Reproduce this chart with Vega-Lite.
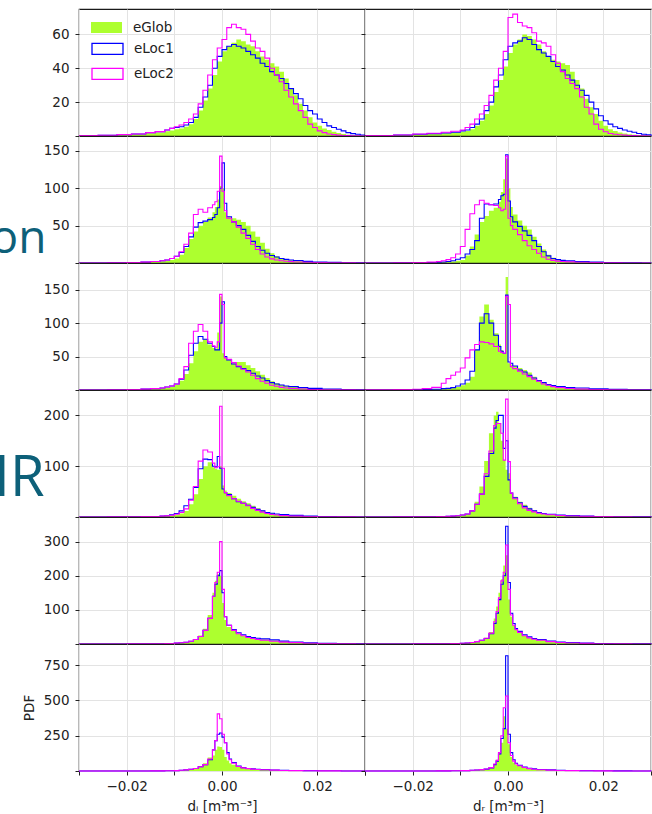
{
"$schema":"https://vega.github.io/schema/vega-lite/v6.json",
"background":"white",
"padding":{"left":-11,"top":8,"right":0,"bottom":0},
"config":{
 "font":"DejaVu Sans",
 "view":{"stroke":"#1a1a1a","strokeWidth":1.2},
 "axis":{"grid":true,"gridColor":"#e3e3e3","gridWidth":1,"domain":false,"tickColor":"#222","tickSize":4,"tickWidth":1,"labelFont":"DejaVu Sans","labelFontSize":13.5,"labelColor":"#222","titleFont":"DejaVu Sans","titleFontSize":13.5,"titleFontWeight":"normal","titleColor":"#222"},
 "axisX":{"labelPadding":4,"titlePadding":7},
 "axisY":{"labelPadding":6}
},
"data":{"values":[
{"p":"1L","x":-0.03,"eGlob":0.2,"eLoc1":0.2,"eLoc2":0.2},
{"p":"1L","x":-0.026,"eGlob":0.4,"eLoc1":0.4,"eLoc2":0.4},
{"p":"1L","x":-0.022,"eGlob":0.8,"eLoc1":0.8,"eLoc2":0.8},
{"p":"1L","x":-0.019,"eGlob":1,"eLoc1":1.2,"eLoc2":1.2},
{"p":"1L","x":-0.016,"eGlob":1.6,"eLoc1":2,"eLoc2":2},
{"p":"1L","x":-0.014,"eGlob":2,"eLoc1":2.6,"eLoc2":2.6},
{"p":"1L","x":-0.012,"eGlob":2.8,"eLoc1":3.5,"eLoc2":3.5},
{"p":"1L","x":-0.011,"eGlob":3.2,"eLoc1":4.5,"eLoc2":4.5},
{"p":"1L","x":-0.01,"eGlob":4,"eLoc1":5,"eLoc2":5.5},
{"p":"1L","x":-0.009,"eGlob":4.5,"eLoc1":5.5,"eLoc2":6.5},
{"p":"1L","x":-0.008,"eGlob":5.5,"eLoc1":6.5,"eLoc2":8},
{"p":"1L","x":-0.007,"eGlob":7,"eLoc1":8,"eLoc2":10},
{"p":"1L","x":-0.006,"eGlob":10,"eLoc1":11,"eLoc2":13},
{"p":"1L","x":-0.005,"eGlob":15,"eLoc1":17,"eLoc2":19},
{"p":"1L","x":-0.004,"eGlob":21,"eLoc1":23,"eLoc2":27},
{"p":"1L","x":-0.003,"eGlob":28,"eLoc1":30,"eLoc2":36},
{"p":"1L","x":-0.002,"eGlob":36,"eLoc1":40,"eLoc2":45},
{"p":"1L","x":-0.001,"eGlob":44,"eLoc1":47,"eLoc2":52},
{"p":"1L","x":0,"eGlob":50,"eLoc1":51,"eLoc2":57},
{"p":"1L","x":0.001,"eGlob":53,"eLoc1":53,"eLoc2":64},
{"p":"1L","x":0.002,"eGlob":55,"eLoc1":54,"eLoc2":66},
{"p":"1L","x":0.003,"eGlob":57,"eLoc1":53,"eLoc2":64},
{"p":"1L","x":0.004,"eGlob":56,"eLoc1":52,"eLoc2":63},
{"p":"1L","x":0.005,"eGlob":54,"eLoc1":50,"eLoc2":60},
{"p":"1L","x":0.006,"eGlob":53,"eLoc1":48,"eLoc2":56},
{"p":"1L","x":0.007,"eGlob":50,"eLoc1":46,"eLoc2":52},
{"p":"1L","x":0.008,"eGlob":47,"eLoc1":43,"eLoc2":50},
{"p":"1L","x":0.009,"eGlob":45,"eLoc1":41,"eLoc2":46},
{"p":"1L","x":0.01,"eGlob":43,"eLoc1":38,"eLoc2":40},
{"p":"1L","x":0.011,"eGlob":41,"eLoc1":36,"eLoc2":36},
{"p":"1L","x":0.012,"eGlob":38,"eLoc1":34,"eLoc2":32},
{"p":"1L","x":0.013,"eGlob":34,"eLoc1":31,"eLoc2":27},
{"p":"1L","x":0.014,"eGlob":28,"eLoc1":28,"eLoc2":23},
{"p":"1L","x":0.015,"eGlob":24,"eLoc1":25,"eLoc2":19},
{"p":"1L","x":0.016,"eGlob":19,"eLoc1":22,"eLoc2":15},
{"p":"1L","x":0.017,"eGlob":15,"eLoc1":18,"eLoc2":11},
{"p":"1L","x":0.018,"eGlob":11,"eLoc1":15,"eLoc2":7},
{"p":"1L","x":0.019,"eGlob":8,"eLoc1":13,"eLoc2":5},
{"p":"1L","x":0.02,"eGlob":6,"eLoc1":10,"eLoc2":3},
{"p":"1L","x":0.021,"eGlob":4.5,"eLoc1":8,"eLoc2":2},
{"p":"1L","x":0.022,"eGlob":3.5,"eLoc1":6,"eLoc2":1.2},
{"p":"1L","x":0.023,"eGlob":2.5,"eLoc1":5,"eLoc2":0.8},
{"p":"1L","x":0.024,"eGlob":1.8,"eLoc1":4,"eLoc2":0.5},
{"p":"1L","x":0.025,"eGlob":1.2,"eLoc1":3,"eLoc2":0.3},
{"p":"1L","x":0.026,"eGlob":0.8,"eLoc1":2,"eLoc2":0.2},
{"p":"1L","x":0.027,"eGlob":0.5,"eLoc1":1.4,"eLoc2":0.1},
{"p":"1L","x":0.028,"eGlob":0.3,"eLoc1":1,"eLoc2":0.1},
{"p":"1L","x":0.029,"eGlob":0.2,"eLoc1":0.6,"eLoc2":0},
{"p":"1L","x":0.03,"eGlob":0,"eLoc1":0,"eLoc2":0},
{"p":"1R","x":-0.03,"eGlob":0.3,"eLoc1":0.3,"eLoc2":0.3},
{"p":"1R","x":-0.024,"eGlob":0.6,"eLoc1":0.6,"eLoc2":0.6},
{"p":"1R","x":-0.02,"eGlob":1,"eLoc1":1,"eLoc2":1.2},
{"p":"1R","x":-0.017,"eGlob":1.3,"eLoc1":1.4,"eLoc2":1.6},
{"p":"1R","x":-0.014,"eGlob":1.6,"eLoc1":1.8,"eLoc2":2.2},
{"p":"1R","x":-0.012,"eGlob":2,"eLoc1":2.2,"eLoc2":2.8},
{"p":"1R","x":-0.01,"eGlob":2.5,"eLoc1":3,"eLoc2":3.5},
{"p":"1R","x":-0.009,"eGlob":3,"eLoc1":3.5,"eLoc2":5},
{"p":"1R","x":-0.008,"eGlob":4,"eLoc1":5,"eLoc2":7},
{"p":"1R","x":-0.007,"eGlob":6,"eLoc1":7,"eLoc2":10},
{"p":"1R","x":-0.006,"eGlob":9,"eLoc1":10,"eLoc2":13},
{"p":"1R","x":-0.005,"eGlob":13,"eLoc1":15,"eLoc2":18},
{"p":"1R","x":-0.004,"eGlob":18,"eLoc1":20,"eLoc2":24},
{"p":"1R","x":-0.003,"eGlob":26,"eLoc1":29,"eLoc2":33},
{"p":"1R","x":-0.002,"eGlob":33,"eLoc1":36,"eLoc2":40},
{"p":"1R","x":-0.001,"eGlob":41,"eLoc1":45,"eLoc2":50},
{"p":"1R","x":0,"eGlob":49,"eLoc1":53,"eLoc2":70},
{"p":"1R","x":0.001,"eGlob":54,"eLoc1":55,"eLoc2":72},
{"p":"1R","x":0.002,"eGlob":57,"eLoc1":56,"eLoc2":67},
{"p":"1R","x":0.003,"eGlob":60,"eLoc1":58,"eLoc2":65},
{"p":"1R","x":0.004,"eGlob":59,"eLoc1":57,"eLoc2":64},
{"p":"1R","x":0.005,"eGlob":57,"eLoc1":54,"eLoc2":61},
{"p":"1R","x":0.006,"eGlob":54,"eLoc1":51,"eLoc2":56},
{"p":"1R","x":0.007,"eGlob":50,"eLoc1":49,"eLoc2":55},
{"p":"1R","x":0.008,"eGlob":47,"eLoc1":47,"eLoc2":53},
{"p":"1R","x":0.009,"eGlob":45,"eLoc1":44,"eLoc2":48},
{"p":"1R","x":0.01,"eGlob":44,"eLoc1":41,"eLoc2":43},
{"p":"1R","x":0.011,"eGlob":43,"eLoc1":39,"eLoc2":38},
{"p":"1R","x":0.012,"eGlob":42,"eLoc1":36,"eLoc2":34},
{"p":"1R","x":0.013,"eGlob":38,"eLoc1":33,"eLoc2":31},
{"p":"1R","x":0.014,"eGlob":33,"eLoc1":30,"eLoc2":28},
{"p":"1R","x":0.015,"eGlob":28,"eLoc1":27,"eLoc2":23},
{"p":"1R","x":0.016,"eGlob":22,"eLoc1":24,"eLoc2":17},
{"p":"1R","x":0.017,"eGlob":17,"eLoc1":20,"eLoc2":13},
{"p":"1R","x":0.018,"eGlob":13,"eLoc1":16,"eLoc2":7},
{"p":"1R","x":0.019,"eGlob":9,"eLoc1":12,"eLoc2":4},
{"p":"1R","x":0.02,"eGlob":6,"eLoc1":9,"eLoc2":2.5},
{"p":"1R","x":0.021,"eGlob":4,"eLoc1":7,"eLoc2":1.5},
{"p":"1R","x":0.022,"eGlob":3,"eLoc1":5.5,"eLoc2":1},
{"p":"1R","x":0.023,"eGlob":2,"eLoc1":4.5,"eLoc2":0.7},
{"p":"1R","x":0.024,"eGlob":1.5,"eLoc1":3.5,"eLoc2":0.5},
{"p":"1R","x":0.025,"eGlob":1,"eLoc1":2.8,"eLoc2":0.3},
{"p":"1R","x":0.026,"eGlob":0.7,"eLoc1":2.2,"eLoc2":0.2},
{"p":"1R","x":0.027,"eGlob":0.5,"eLoc1":1.5,"eLoc2":0.1},
{"p":"1R","x":0.028,"eGlob":0.3,"eLoc1":1,"eLoc2":0.1},
{"p":"1R","x":0.029,"eGlob":0.2,"eLoc1":0.7,"eLoc2":0},
{"p":"1R","x":0.03,"eGlob":0,"eLoc1":0,"eLoc2":0},
{"p":"2L","x":-0.03,"eGlob":0.1,"eLoc1":0.1,"eLoc2":0.1},
{"p":"2L","x":-0.024,"eGlob":0.3,"eLoc1":0.3,"eLoc2":0.3},
{"p":"2L","x":-0.02,"eGlob":0.5,"eLoc1":0.6,"eLoc2":0.6},
{"p":"2L","x":-0.017,"eGlob":1,"eLoc1":1.2,"eLoc2":1.2},
{"p":"2L","x":-0.015,"eGlob":1.5,"eLoc1":2,"eLoc2":2},
{"p":"2L","x":-0.013,"eGlob":2.5,"eLoc1":3,"eLoc2":3},
{"p":"2L","x":-0.012,"eGlob":3,"eLoc1":4,"eLoc2":4},
{"p":"2L","x":-0.011,"eGlob":4,"eLoc1":6,"eLoc2":6},
{"p":"2L","x":-0.01,"eGlob":6,"eLoc1":9,"eLoc2":9},
{"p":"2L","x":-0.009,"eGlob":11,"eLoc1":14,"eLoc2":15},
{"p":"2L","x":-0.008,"eGlob":20,"eLoc1":22,"eLoc2":25},
{"p":"2L","x":-0.007,"eGlob":32,"eLoc1":35,"eLoc2":40},
{"p":"2L","x":-0.006,"eGlob":42,"eLoc1":48,"eLoc2":65},
{"p":"2L","x":-0.005,"eGlob":50,"eLoc1":54,"eLoc2":72},
{"p":"2L","x":-0.004,"eGlob":55,"eLoc1":56,"eLoc2":68},
{"p":"2L","x":-0.003,"eGlob":61,"eLoc1":58,"eLoc2":74},
{"p":"2L","x":-0.002,"eGlob":68,"eLoc1":61,"eLoc2":78},
{"p":"2L","x":-0.0015,"eGlob":75,"eLoc1":65,"eLoc2":82},
{"p":"2L","x":-0.001,"eGlob":85,"eLoc1":74,"eLoc2":96},
{"p":"2L","x":-0.0005,"eGlob":103,"eLoc1":100,"eLoc2":143},
{"p":"2L","x":0,"eGlob":100,"eLoc1":134,"eLoc2":96},
{"p":"2L","x":0.0005,"eGlob":68,"eLoc1":80,"eLoc2":70},
{"p":"2L","x":0.001,"eGlob":62,"eLoc1":62,"eLoc2":60},
{"p":"2L","x":0.002,"eGlob":60,"eLoc1":55,"eLoc2":55},
{"p":"2L","x":0.003,"eGlob":58,"eLoc1":50,"eLoc2":48},
{"p":"2L","x":0.004,"eGlob":55,"eLoc1":45,"eLoc2":40},
{"p":"2L","x":0.005,"eGlob":50,"eLoc1":37,"eLoc2":33},
{"p":"2L","x":0.006,"eGlob":42,"eLoc1":29,"eLoc2":25},
{"p":"2L","x":0.007,"eGlob":35,"eLoc1":22,"eLoc2":18},
{"p":"2L","x":0.008,"eGlob":27,"eLoc1":17,"eLoc2":12},
{"p":"2L","x":0.009,"eGlob":19,"eLoc1":13,"eLoc2":8},
{"p":"2L","x":0.01,"eGlob":13,"eLoc1":10,"eLoc2":5.5},
{"p":"2L","x":0.011,"eGlob":9,"eLoc1":8,"eLoc2":4},
{"p":"2L","x":0.012,"eGlob":6.5,"eLoc1":6,"eLoc2":3},
{"p":"2L","x":0.013,"eGlob":5,"eLoc1":4.8,"eLoc2":2.3},
{"p":"2L","x":0.014,"eGlob":3.8,"eLoc1":4,"eLoc2":1.8},
{"p":"2L","x":0.015,"eGlob":3,"eLoc1":3.3,"eLoc2":1.4},
{"p":"2L","x":0.017,"eGlob":2,"eLoc1":2.2,"eLoc2":1},
{"p":"2L","x":0.019,"eGlob":1.2,"eLoc1":1.4,"eLoc2":0.6},
{"p":"2L","x":0.022,"eGlob":0.6,"eLoc1":0.8,"eLoc2":0.4},
{"p":"2L","x":0.025,"eGlob":0.3,"eLoc1":0.4,"eLoc2":0.2},
{"p":"2L","x":0.028,"eGlob":0.1,"eLoc1":0.2,"eLoc2":0.1},
{"p":"2L","x":0.03,"eGlob":0,"eLoc1":0,"eLoc2":0},
{"p":"2R","x":-0.03,"eGlob":0.1,"eLoc1":0.1,"eLoc2":0.1},
{"p":"2R","x":-0.024,"eGlob":0.2,"eLoc1":0.2,"eLoc2":0.3},
{"p":"2R","x":-0.02,"eGlob":0.4,"eLoc1":0.4,"eLoc2":0.6},
{"p":"2R","x":-0.017,"eGlob":0.7,"eLoc1":0.7,"eLoc2":1.2},
{"p":"2R","x":-0.015,"eGlob":1,"eLoc1":1,"eLoc2":2},
{"p":"2R","x":-0.014,"eGlob":1.2,"eLoc1":1.4,"eLoc2":3},
{"p":"2R","x":-0.013,"eGlob":1.5,"eLoc1":2,"eLoc2":4.5},
{"p":"2R","x":-0.012,"eGlob":2,"eLoc1":3,"eLoc2":7},
{"p":"2R","x":-0.011,"eGlob":3,"eLoc1":5,"eLoc2":12},
{"p":"2R","x":-0.01,"eGlob":4,"eLoc1":7,"eLoc2":22},
{"p":"2R","x":-0.009,"eGlob":10,"eLoc1":12,"eLoc2":45},
{"p":"2R","x":-0.008,"eGlob":22,"eLoc1":18,"eLoc2":66},
{"p":"2R","x":-0.007,"eGlob":38,"eLoc1":30,"eLoc2":78},
{"p":"2R","x":-0.006,"eGlob":55,"eLoc1":60,"eLoc2":84},
{"p":"2R","x":-0.005,"eGlob":63,"eLoc1":79,"eLoc2":80},
{"p":"2R","x":-0.004,"eGlob":70,"eLoc1":78,"eLoc2":78},
{"p":"2R","x":-0.003,"eGlob":74,"eLoc1":79,"eLoc2":77},
{"p":"2R","x":-0.002,"eGlob":82,"eLoc1":85,"eLoc2":74},
{"p":"2R","x":-0.0015,"eGlob":95,"eLoc1":90,"eLoc2":70},
{"p":"2R","x":-0.001,"eGlob":112,"eLoc1":92,"eLoc2":72},
{"p":"2R","x":-0.0005,"eGlob":140,"eLoc1":145,"eLoc2":143},
{"p":"2R","x":0,"eGlob":100,"eLoc1":83,"eLoc2":60},
{"p":"2R","x":0.0005,"eGlob":75,"eLoc1":62,"eLoc2":50},
{"p":"2R","x":0.001,"eGlob":65,"eLoc1":55,"eLoc2":45},
{"p":"2R","x":0.002,"eGlob":57,"eLoc1":49,"eLoc2":38},
{"p":"2R","x":0.003,"eGlob":50,"eLoc1":43,"eLoc2":30},
{"p":"2R","x":0.004,"eGlob":45,"eLoc1":37,"eLoc2":23},
{"p":"2R","x":0.005,"eGlob":35,"eLoc1":30,"eLoc2":18},
{"p":"2R","x":0.006,"eGlob":26,"eLoc1":22,"eLoc2":13},
{"p":"2R","x":0.007,"eGlob":18,"eLoc1":15,"eLoc2":8},
{"p":"2R","x":0.008,"eGlob":11,"eLoc1":9.5,"eLoc2":5},
{"p":"2R","x":0.009,"eGlob":7,"eLoc1":6,"eLoc2":3.5},
{"p":"2R","x":0.01,"eGlob":5,"eLoc1":4.5,"eLoc2":2.5},
{"p":"2R","x":0.011,"eGlob":3.5,"eLoc1":3.5,"eLoc2":2},
{"p":"2R","x":0.012,"eGlob":2.5,"eLoc1":2.8,"eLoc2":1.5},
{"p":"2R","x":0.014,"eGlob":1.5,"eLoc1":2,"eLoc2":1},
{"p":"2R","x":0.017,"eGlob":0.8,"eLoc1":1.2,"eLoc2":0.5},
{"p":"2R","x":0.02,"eGlob":0.4,"eLoc1":0.6,"eLoc2":0.3},
{"p":"2R","x":0.024,"eGlob":0.2,"eLoc1":0.3,"eLoc2":0.1},
{"p":"2R","x":0.028,"eGlob":0.1,"eLoc1":0.1,"eLoc2":0},
{"p":"2R","x":0.03,"eGlob":0,"eLoc1":0,"eLoc2":0},
{"p":"3L","x":-0.03,"eGlob":0.1,"eLoc1":0.1,"eLoc2":0.1},
{"p":"3L","x":-0.024,"eGlob":0.3,"eLoc1":0.3,"eLoc2":0.3},
{"p":"3L","x":-0.02,"eGlob":0.6,"eLoc1":0.8,"eLoc2":0.8},
{"p":"3L","x":-0.017,"eGlob":1,"eLoc1":1.3,"eLoc2":1.3},
{"p":"3L","x":-0.015,"eGlob":1.5,"eLoc1":2,"eLoc2":2},
{"p":"3L","x":-0.013,"eGlob":2.5,"eLoc1":3,"eLoc2":3},
{"p":"3L","x":-0.012,"eGlob":3.5,"eLoc1":4.5,"eLoc2":4.5},
{"p":"3L","x":-0.011,"eGlob":5,"eLoc1":6,"eLoc2":6},
{"p":"3L","x":-0.01,"eGlob":8,"eLoc1":9,"eLoc2":9},
{"p":"3L","x":-0.009,"eGlob":14,"eLoc1":16,"eLoc2":17},
{"p":"3L","x":-0.008,"eGlob":24,"eLoc1":30,"eLoc2":35},
{"p":"3L","x":-0.007,"eGlob":40,"eLoc1":52,"eLoc2":70},
{"p":"3L","x":-0.006,"eGlob":58,"eLoc1":70,"eLoc2":88},
{"p":"3L","x":-0.005,"eGlob":72,"eLoc1":80,"eLoc2":98},
{"p":"3L","x":-0.004,"eGlob":76,"eLoc1":76,"eLoc2":88},
{"p":"3L","x":-0.003,"eGlob":68,"eLoc1":70,"eLoc2":72},
{"p":"3L","x":-0.002,"eGlob":63,"eLoc1":65,"eLoc2":66},
{"p":"3L","x":-0.0015,"eGlob":62,"eLoc1":60,"eLoc2":64},
{"p":"3L","x":-0.001,"eGlob":86,"eLoc1":60,"eLoc2":72},
{"p":"3L","x":-0.0005,"eGlob":140,"eLoc1":100,"eLoc2":143},
{"p":"3L","x":0,"eGlob":55,"eLoc1":132,"eLoc2":128},
{"p":"3L","x":0.0005,"eGlob":50,"eLoc1":50,"eLoc2":48},
{"p":"3L","x":0.001,"eGlob":45,"eLoc1":45,"eLoc2":46},
{"p":"3L","x":0.002,"eGlob":40,"eLoc1":39,"eLoc2":41},
{"p":"3L","x":0.003,"eGlob":42,"eLoc1":35,"eLoc2":36},
{"p":"3L","x":0.004,"eGlob":42,"eLoc1":32,"eLoc2":31},
{"p":"3L","x":0.005,"eGlob":37,"eLoc1":29,"eLoc2":27},
{"p":"3L","x":0.006,"eGlob":33,"eLoc1":25,"eLoc2":22},
{"p":"3L","x":0.007,"eGlob":28,"eLoc1":21,"eLoc2":17},
{"p":"3L","x":0.008,"eGlob":23,"eLoc1":18,"eLoc2":13},
{"p":"3L","x":0.009,"eGlob":18,"eLoc1":14,"eLoc2":10},
{"p":"3L","x":0.01,"eGlob":13,"eLoc1":11,"eLoc2":7},
{"p":"3L","x":0.011,"eGlob":10,"eLoc1":9,"eLoc2":5.5},
{"p":"3L","x":0.012,"eGlob":7.5,"eLoc1":7.5,"eLoc2":4},
{"p":"3L","x":0.013,"eGlob":6,"eLoc1":6,"eLoc2":3},
{"p":"3L","x":0.014,"eGlob":4.5,"eLoc1":5,"eLoc2":2.2},
{"p":"3L","x":0.016,"eGlob":2.5,"eLoc1":3.5,"eLoc2":1.5},
{"p":"3L","x":0.018,"eGlob":1.5,"eLoc1":2.5,"eLoc2":0.8},
{"p":"3L","x":0.021,"eGlob":0.8,"eLoc1":1.5,"eLoc2":0.4},
{"p":"3L","x":0.025,"eGlob":0.3,"eLoc1":0.6,"eLoc2":0.2},
{"p":"3L","x":0.028,"eGlob":0.1,"eLoc1":0.2,"eLoc2":0.1},
{"p":"3L","x":0.03,"eGlob":0,"eLoc1":0,"eLoc2":0},
{"p":"3R","x":-0.03,"eGlob":0.1,"eLoc1":0.1,"eLoc2":0.2},
{"p":"3R","x":-0.024,"eGlob":0.3,"eLoc1":0.3,"eLoc2":0.6},
{"p":"3R","x":-0.02,"eGlob":0.5,"eLoc1":0.5,"eLoc2":1.2},
{"p":"3R","x":-0.018,"eGlob":0.8,"eLoc1":0.8,"eLoc2":2},
{"p":"3R","x":-0.016,"eGlob":1.2,"eLoc1":1.2,"eLoc2":4},
{"p":"3R","x":-0.014,"eGlob":2,"eLoc1":2,"eLoc2":10},
{"p":"3R","x":-0.013,"eGlob":2.5,"eLoc1":2.5,"eLoc2":17},
{"p":"3R","x":-0.012,"eGlob":3,"eLoc1":3.5,"eLoc2":22},
{"p":"3R","x":-0.011,"eGlob":4.5,"eLoc1":6,"eLoc2":27},
{"p":"3R","x":-0.01,"eGlob":7,"eLoc1":9,"eLoc2":33},
{"p":"3R","x":-0.009,"eGlob":11,"eLoc1":15,"eLoc2":48},
{"p":"3R","x":-0.008,"eGlob":20,"eLoc1":28,"eLoc2":60},
{"p":"3R","x":-0.007,"eGlob":60,"eLoc1":60,"eLoc2":68},
{"p":"3R","x":-0.006,"eGlob":110,"eLoc1":100,"eLoc2":72},
{"p":"3R","x":-0.005,"eGlob":128,"eLoc1":114,"eLoc2":71},
{"p":"3R","x":-0.004,"eGlob":105,"eLoc1":100,"eLoc2":69},
{"p":"3R","x":-0.003,"eGlob":85,"eLoc1":82,"eLoc2":65},
{"p":"3R","x":-0.002,"eGlob":68,"eLoc1":65,"eLoc2":58},
{"p":"3R","x":-0.0015,"eGlob":60,"eLoc1":58,"eLoc2":56},
{"p":"3R","x":-0.001,"eGlob":55,"eLoc1":55,"eLoc2":55},
{"p":"3R","x":-0.0005,"eGlob":169,"eLoc1":142,"eLoc2":140},
{"p":"3R","x":0,"eGlob":40,"eLoc1":42,"eLoc2":128},
{"p":"3R","x":0.0005,"eGlob":38,"eLoc1":40,"eLoc2":35},
{"p":"3R","x":0.001,"eGlob":36,"eLoc1":36,"eLoc2":32},
{"p":"3R","x":0.002,"eGlob":33,"eLoc1":30,"eLoc2":28},
{"p":"3R","x":0.003,"eGlob":30,"eLoc1":27,"eLoc2":24},
{"p":"3R","x":0.004,"eGlob":26,"eLoc1":22,"eLoc2":20},
{"p":"3R","x":0.005,"eGlob":20,"eLoc1":18,"eLoc2":16},
{"p":"3R","x":0.006,"eGlob":15,"eLoc1":14,"eLoc2":13},
{"p":"3R","x":0.007,"eGlob":12,"eLoc1":11,"eLoc2":9},
{"p":"3R","x":0.008,"eGlob":9,"eLoc1":8,"eLoc2":7},
{"p":"3R","x":0.009,"eGlob":7,"eLoc1":6.5,"eLoc2":5},
{"p":"3R","x":0.01,"eGlob":5.5,"eLoc1":5,"eLoc2":3.5},
{"p":"3R","x":0.012,"eGlob":3.5,"eLoc1":3.8,"eLoc2":2.2},
{"p":"3R","x":0.014,"eGlob":2.2,"eLoc1":3,"eLoc2":1.3},
{"p":"3R","x":0.017,"eGlob":1.2,"eLoc1":1.8,"eLoc2":0.7},
{"p":"3R","x":0.021,"eGlob":0.6,"eLoc1":1,"eLoc2":0.3},
{"p":"3R","x":0.025,"eGlob":0.3,"eLoc1":0.4,"eLoc2":0.1},
{"p":"3R","x":0.028,"eGlob":0.1,"eLoc1":0.2,"eLoc2":0},
{"p":"3R","x":0.03,"eGlob":0,"eLoc1":0,"eLoc2":0},
{"p":"4L","x":-0.03,"eGlob":0.1,"eLoc1":0.1,"eLoc2":0.1},
{"p":"4L","x":-0.024,"eGlob":0.2,"eLoc1":0.2,"eLoc2":0.2},
{"p":"4L","x":-0.02,"eGlob":0.4,"eLoc1":0.4,"eLoc2":0.4},
{"p":"4L","x":-0.017,"eGlob":0.7,"eLoc1":0.7,"eLoc2":0.7},
{"p":"4L","x":-0.015,"eGlob":1,"eLoc1":1,"eLoc2":1},
{"p":"4L","x":-0.013,"eGlob":1.5,"eLoc1":2,"eLoc2":1.7},
{"p":"4L","x":-0.012,"eGlob":2,"eLoc1":2.6,"eLoc2":2.2},
{"p":"4L","x":-0.011,"eGlob":3,"eLoc1":4.5,"eLoc2":3.5},
{"p":"4L","x":-0.01,"eGlob":4.5,"eLoc1":7,"eLoc2":5.5},
{"p":"4L","x":-0.009,"eGlob":7,"eLoc1":12,"eLoc2":9},
{"p":"4L","x":-0.008,"eGlob":12,"eLoc1":22,"eLoc2":16},
{"p":"4L","x":-0.007,"eGlob":25,"eLoc1":35,"eLoc2":33},
{"p":"4L","x":-0.006,"eGlob":45,"eLoc1":58,"eLoc2":60},
{"p":"4L","x":-0.005,"eGlob":75,"eLoc1":95,"eLoc2":110},
{"p":"4L","x":-0.004,"eGlob":100,"eLoc1":114,"eLoc2":132},
{"p":"4L","x":-0.003,"eGlob":108,"eLoc1":113,"eLoc2":128},
{"p":"4L","x":-0.002,"eGlob":98,"eLoc1":100,"eLoc2":106},
{"p":"4L","x":-0.0015,"eGlob":95,"eLoc1":99,"eLoc2":97},
{"p":"4L","x":-0.001,"eGlob":93,"eLoc1":119,"eLoc2":99},
{"p":"4L","x":-0.0005,"eGlob":100,"eLoc1":96,"eLoc2":218},
{"p":"4L","x":0,"eGlob":62,"eLoc1":55,"eLoc2":96},
{"p":"4L","x":0.0005,"eGlob":52,"eLoc1":48,"eLoc2":48},
{"p":"4L","x":0.001,"eGlob":47,"eLoc1":44,"eLoc2":42},
{"p":"4L","x":0.002,"eGlob":42,"eLoc1":36,"eLoc2":36},
{"p":"4L","x":0.003,"eGlob":36,"eLoc1":30,"eLoc2":31},
{"p":"4L","x":0.004,"eGlob":31,"eLoc1":27,"eLoc2":27},
{"p":"4L","x":0.005,"eGlob":27,"eLoc1":23,"eLoc2":22},
{"p":"4L","x":0.006,"eGlob":22,"eLoc1":19,"eLoc2":17},
{"p":"4L","x":0.007,"eGlob":17,"eLoc1":15,"eLoc2":13},
{"p":"4L","x":0.008,"eGlob":13,"eLoc1":12,"eLoc2":9.5},
{"p":"4L","x":0.009,"eGlob":10,"eLoc1":9,"eLoc2":7},
{"p":"4L","x":0.01,"eGlob":7.5,"eLoc1":7.5,"eLoc2":5},
{"p":"4L","x":0.011,"eGlob":5.5,"eLoc1":6,"eLoc2":3.8},
{"p":"4L","x":0.012,"eGlob":4.2,"eLoc1":5,"eLoc2":2.8},
{"p":"4L","x":0.014,"eGlob":2.5,"eLoc1":3.2,"eLoc2":1.7},
{"p":"4L","x":0.017,"eGlob":1.2,"eLoc1":1.8,"eLoc2":0.8},
{"p":"4L","x":0.02,"eGlob":0.6,"eLoc1":0.9,"eLoc2":0.4},
{"p":"4L","x":0.024,"eGlob":0.3,"eLoc1":0.4,"eLoc2":0.2},
{"p":"4L","x":0.028,"eGlob":0.1,"eLoc1":0.1,"eLoc2":0.1},
{"p":"4L","x":0.03,"eGlob":0,"eLoc1":0,"eLoc2":0},
{"p":"4R","x":-0.03,"eGlob":0.1,"eLoc1":0.1,"eLoc2":0.1},
{"p":"4R","x":-0.024,"eGlob":0.2,"eLoc1":0.2,"eLoc2":0.2},
{"p":"4R","x":-0.02,"eGlob":0.4,"eLoc1":0.4,"eLoc2":0.4},
{"p":"4R","x":-0.017,"eGlob":0.6,"eLoc1":0.6,"eLoc2":0.6},
{"p":"4R","x":-0.015,"eGlob":0.9,"eLoc1":0.9,"eLoc2":0.9},
{"p":"4R","x":-0.013,"eGlob":1.3,"eLoc1":1.3,"eLoc2":1.3},
{"p":"4R","x":-0.012,"eGlob":1.8,"eLoc1":1.8,"eLoc2":1.8},
{"p":"4R","x":-0.011,"eGlob":2.5,"eLoc1":2.5,"eLoc2":2.5},
{"p":"4R","x":-0.01,"eGlob":3.5,"eLoc1":4,"eLoc2":4},
{"p":"4R","x":-0.009,"eGlob":6,"eLoc1":6,"eLoc2":6},
{"p":"4R","x":-0.008,"eGlob":12,"eLoc1":12,"eLoc2":12},
{"p":"4R","x":-0.007,"eGlob":30,"eLoc1":25,"eLoc2":25},
{"p":"4R","x":-0.006,"eGlob":60,"eLoc1":45,"eLoc2":45},
{"p":"4R","x":-0.005,"eGlob":110,"eLoc1":80,"eLoc2":85},
{"p":"4R","x":-0.004,"eGlob":165,"eLoc1":125,"eLoc2":130},
{"p":"4R","x":-0.003,"eGlob":200,"eLoc1":175,"eLoc2":180},
{"p":"4R","x":-0.0025,"eGlob":207,"eLoc1":190,"eLoc2":184},
{"p":"4R","x":-0.002,"eGlob":184,"eLoc1":200,"eLoc2":184},
{"p":"4R","x":-0.0015,"eGlob":150,"eLoc1":200,"eLoc2":165},
{"p":"4R","x":-0.001,"eGlob":112,"eLoc1":135,"eLoc2":112},
{"p":"4R","x":-0.0005,"eGlob":93,"eLoc1":150,"eLoc2":232},
{"p":"4R","x":0,"eGlob":86,"eLoc1":73,"eLoc2":109},
{"p":"4R","x":0.0005,"eGlob":47,"eLoc1":47,"eLoc2":47},
{"p":"4R","x":0.001,"eGlob":40,"eLoc1":38,"eLoc2":36},
{"p":"4R","x":0.002,"eGlob":30,"eLoc1":28,"eLoc2":26},
{"p":"4R","x":0.003,"eGlob":24,"eLoc1":21,"eLoc2":18},
{"p":"4R","x":0.004,"eGlob":18,"eLoc1":16,"eLoc2":13},
{"p":"4R","x":0.005,"eGlob":13,"eLoc1":12,"eLoc2":10},
{"p":"4R","x":0.006,"eGlob":9.5,"eLoc1":9,"eLoc2":7.5},
{"p":"4R","x":0.007,"eGlob":7,"eLoc1":7,"eLoc2":6},
{"p":"4R","x":0.008,"eGlob":5,"eLoc1":5.5,"eLoc2":4.5},
{"p":"4R","x":0.01,"eGlob":3.5,"eLoc1":4,"eLoc2":3},
{"p":"4R","x":0.012,"eGlob":2.2,"eLoc1":2.8,"eLoc2":2},
{"p":"4R","x":0.015,"eGlob":1.3,"eLoc1":1.7,"eLoc2":1.2},
{"p":"4R","x":0.018,"eGlob":0.7,"eLoc1":1,"eLoc2":0.7},
{"p":"4R","x":0.022,"eGlob":0.4,"eLoc1":0.5,"eLoc2":0.3},
{"p":"4R","x":0.026,"eGlob":0.2,"eLoc1":0.2,"eLoc2":0.1},
{"p":"4R","x":0.03,"eGlob":0,"eLoc1":0,"eLoc2":0},
{"p":"5L","x":-0.03,"eGlob":0.1,"eLoc1":0.1,"eLoc2":0.1},
{"p":"5L","x":-0.02,"eGlob":0.3,"eLoc1":0.3,"eLoc2":0.3},
{"p":"5L","x":-0.015,"eGlob":0.8,"eLoc1":0.8,"eLoc2":0.8},
{"p":"5L","x":-0.012,"eGlob":1.5,"eLoc1":1.5,"eLoc2":1.5},
{"p":"5L","x":-0.01,"eGlob":2.5,"eLoc1":2.5,"eLoc2":2.5},
{"p":"5L","x":-0.009,"eGlob":3.5,"eLoc1":3.5,"eLoc2":3.5},
{"p":"5L","x":-0.008,"eGlob":5,"eLoc1":5,"eLoc2":5},
{"p":"5L","x":-0.007,"eGlob":8,"eLoc1":8,"eLoc2":8},
{"p":"5L","x":-0.006,"eGlob":13,"eLoc1":13,"eLoc2":13},
{"p":"5L","x":-0.005,"eGlob":25,"eLoc1":22,"eLoc2":22},
{"p":"5L","x":-0.004,"eGlob":45,"eLoc1":40,"eLoc2":40},
{"p":"5L","x":-0.003,"eGlob":85,"eLoc1":75,"eLoc2":75},
{"p":"5L","x":-0.002,"eGlob":150,"eLoc1":140,"eLoc2":140},
{"p":"5L","x":-0.0015,"eGlob":185,"eLoc1":175,"eLoc2":180},
{"p":"5L","x":-0.001,"eGlob":205,"eLoc1":200,"eLoc2":210},
{"p":"5L","x":-0.0005,"eGlob":200,"eLoc1":215,"eLoc2":300},
{"p":"5L","x":0,"eGlob":120,"eLoc1":150,"eLoc2":160},
{"p":"5L","x":0.0005,"eGlob":70,"eLoc1":80,"eLoc2":80},
{"p":"5L","x":0.001,"eGlob":50,"eLoc1":55,"eLoc2":55},
{"p":"5L","x":0.002,"eGlob":40,"eLoc1":42,"eLoc2":40},
{"p":"5L","x":0.003,"eGlob":30,"eLoc1":33,"eLoc2":30},
{"p":"5L","x":0.004,"eGlob":24,"eLoc1":27,"eLoc2":24},
{"p":"5L","x":0.005,"eGlob":20,"eLoc1":22,"eLoc2":19},
{"p":"5L","x":0.006,"eGlob":17,"eLoc1":19,"eLoc2":16},
{"p":"5L","x":0.007,"eGlob":15,"eLoc1":17,"eLoc2":13},
{"p":"5L","x":0.008,"eGlob":13,"eLoc1":15,"eLoc2":11},
{"p":"5L","x":0.01,"eGlob":10,"eLoc1":12,"eLoc2":8},
{"p":"5L","x":0.012,"eGlob":7,"eLoc1":8.5,"eLoc2":5.5},
{"p":"5L","x":0.014,"eGlob":5,"eLoc1":6,"eLoc2":4},
{"p":"5L","x":0.017,"eGlob":3,"eLoc1":3.5,"eLoc2":2.2},
{"p":"5L","x":0.02,"eGlob":1.6,"eLoc1":2,"eLoc2":1.2},
{"p":"5L","x":0.024,"eGlob":0.7,"eLoc1":0.9,"eLoc2":0.5},
{"p":"5L","x":0.028,"eGlob":0.2,"eLoc1":0.3,"eLoc2":0.1},
{"p":"5L","x":0.03,"eGlob":0,"eLoc1":0,"eLoc2":0},
{"p":"5R","x":-0.03,"eGlob":0.1,"eLoc1":0.1,"eLoc2":0.1},
{"p":"5R","x":-0.02,"eGlob":0.3,"eLoc1":0.3,"eLoc2":0.3},
{"p":"5R","x":-0.015,"eGlob":0.7,"eLoc1":0.7,"eLoc2":0.7},
{"p":"5R","x":-0.012,"eGlob":1.3,"eLoc1":1.3,"eLoc2":1.3},
{"p":"5R","x":-0.01,"eGlob":2,"eLoc1":2,"eLoc2":2},
{"p":"5R","x":-0.009,"eGlob":3,"eLoc1":3,"eLoc2":3},
{"p":"5R","x":-0.008,"eGlob":4.5,"eLoc1":4.5,"eLoc2":4.5},
{"p":"5R","x":-0.007,"eGlob":7,"eLoc1":7,"eLoc2":7},
{"p":"5R","x":-0.006,"eGlob":11,"eLoc1":11,"eLoc2":11},
{"p":"5R","x":-0.005,"eGlob":18,"eLoc1":16,"eLoc2":17},
{"p":"5R","x":-0.004,"eGlob":35,"eLoc1":30,"eLoc2":32},
{"p":"5R","x":-0.003,"eGlob":75,"eLoc1":60,"eLoc2":65},
{"p":"5R","x":-0.0025,"eGlob":110,"eLoc1":90,"eLoc2":95},
{"p":"5R","x":-0.002,"eGlob":150,"eLoc1":130,"eLoc2":135},
{"p":"5R","x":-0.0015,"eGlob":190,"eLoc1":175,"eLoc2":185},
{"p":"5R","x":-0.001,"eGlob":230,"eLoc1":200,"eLoc2":210},
{"p":"5R","x":-0.0005,"eGlob":260,"eLoc1":345,"eLoc2":290},
{"p":"5R","x":0,"eGlob":130,"eLoc1":180,"eLoc2":160},
{"p":"5R","x":0.0005,"eGlob":80,"eLoc1":90,"eLoc2":85},
{"p":"5R","x":0.001,"eGlob":55,"eLoc1":60,"eLoc2":55},
{"p":"5R","x":0.0015,"eGlob":42,"eLoc1":45,"eLoc2":42},
{"p":"5R","x":0.002,"eGlob":35,"eLoc1":37,"eLoc2":34},
{"p":"5R","x":0.003,"eGlob":25,"eLoc1":27,"eLoc2":24},
{"p":"5R","x":0.004,"eGlob":19,"eLoc1":21,"eLoc2":18},
{"p":"5R","x":0.005,"eGlob":15,"eLoc1":16,"eLoc2":14},
{"p":"5R","x":0.006,"eGlob":12,"eLoc1":13,"eLoc2":11},
{"p":"5R","x":0.008,"eGlob":8,"eLoc1":9,"eLoc2":7},
{"p":"5R","x":0.01,"eGlob":5.5,"eLoc1":6,"eLoc2":4.5},
{"p":"5R","x":0.012,"eGlob":3.8,"eLoc1":4.2,"eLoc2":3},
{"p":"5R","x":0.015,"eGlob":2.2,"eLoc1":2.5,"eLoc2":1.7},
{"p":"5R","x":0.018,"eGlob":1.2,"eLoc1":1.5,"eLoc2":0.9},
{"p":"5R","x":0.022,"eGlob":0.6,"eLoc1":0.8,"eLoc2":0.4},
{"p":"5R","x":0.026,"eGlob":0.2,"eLoc1":0.3,"eLoc2":0.1},
{"p":"5R","x":0.03,"eGlob":0,"eLoc1":0,"eLoc2":0},
{"p":"6L","x":-0.03,"eGlob":0.1,"eLoc1":0.1,"eLoc2":0.1},
{"p":"6L","x":-0.02,"eGlob":0.5,"eLoc1":0.5,"eLoc2":0.5},
{"p":"6L","x":-0.015,"eGlob":1,"eLoc1":1,"eLoc2":1},
{"p":"6L","x":-0.012,"eGlob":2,"eLoc1":2,"eLoc2":2},
{"p":"6L","x":-0.01,"eGlob":3,"eLoc1":3,"eLoc2":3},
{"p":"6L","x":-0.009,"eGlob":5,"eLoc1":5,"eLoc2":5},
{"p":"6L","x":-0.008,"eGlob":8,"eLoc1":8,"eLoc2":8},
{"p":"6L","x":-0.007,"eGlob":12,"eLoc1":12,"eLoc2":12},
{"p":"6L","x":-0.006,"eGlob":20,"eLoc1":18,"eLoc2":18},
{"p":"6L","x":-0.005,"eGlob":35,"eLoc1":30,"eLoc2":30},
{"p":"6L","x":-0.004,"eGlob":55,"eLoc1":45,"eLoc2":45},
{"p":"6L","x":-0.003,"eGlob":95,"eLoc1":80,"eLoc2":85},
{"p":"6L","x":-0.002,"eGlob":110,"eLoc1":150,"eLoc2":150},
{"p":"6L","x":-0.0015,"eGlob":150,"eLoc1":215,"eLoc2":215},
{"p":"6L","x":-0.001,"eGlob":174,"eLoc1":260,"eLoc2":405},
{"p":"6L","x":-0.0005,"eGlob":170,"eLoc1":269,"eLoc2":370},
{"p":"6L","x":0,"eGlob":150,"eLoc1":240,"eLoc2":260},
{"p":"6L","x":0.0005,"eGlob":100,"eLoc1":200,"eLoc2":200},
{"p":"6L","x":0.001,"eGlob":75,"eLoc1":130,"eLoc2":120},
{"p":"6L","x":0.0015,"eGlob":55,"eLoc1":85,"eLoc2":80},
{"p":"6L","x":0.002,"eGlob":45,"eLoc1":60,"eLoc2":55},
{"p":"6L","x":0.003,"eGlob":30,"eLoc1":35,"eLoc2":32},
{"p":"6L","x":0.004,"eGlob":22,"eLoc1":24,"eLoc2":22},
{"p":"6L","x":0.005,"eGlob":17,"eLoc1":18,"eLoc2":17},
{"p":"6L","x":0.006,"eGlob":14,"eLoc1":15,"eLoc2":13},
{"p":"6L","x":0.007,"eGlob":12,"eLoc1":12,"eLoc2":11},
{"p":"6L","x":0.008,"eGlob":10,"eLoc1":10,"eLoc2":9},
{"p":"6L","x":0.01,"eGlob":7,"eLoc1":7.5,"eLoc2":6.5},
{"p":"6L","x":0.012,"eGlob":5,"eLoc1":5.5,"eLoc2":4},
{"p":"6L","x":0.014,"eGlob":3.5,"eLoc1":4,"eLoc2":3},
{"p":"6L","x":0.017,"eGlob":2,"eLoc1":2.5,"eLoc2":1.7},
{"p":"6L","x":0.02,"eGlob":1,"eLoc1":1.3,"eLoc2":0.9},
{"p":"6L","x":0.025,"eGlob":0.4,"eLoc1":0.5,"eLoc2":0.3},
{"p":"6L","x":0.03,"eGlob":0,"eLoc1":0,"eLoc2":0},
{"p":"6R","x":-0.03,"eGlob":0.1,"eLoc1":0.1,"eLoc2":0.1},
{"p":"6R","x":-0.02,"eGlob":0.5,"eLoc1":0.5,"eLoc2":0.5},
{"p":"6R","x":-0.015,"eGlob":1,"eLoc1":1,"eLoc2":1},
{"p":"6R","x":-0.012,"eGlob":2,"eLoc1":2,"eLoc2":2},
{"p":"6R","x":-0.01,"eGlob":3,"eLoc1":3,"eLoc2":3},
{"p":"6R","x":-0.008,"eGlob":5,"eLoc1":5,"eLoc2":5},
{"p":"6R","x":-0.007,"eGlob":7,"eLoc1":7,"eLoc2":7},
{"p":"6R","x":-0.006,"eGlob":10,"eLoc1":10,"eLoc2":10},
{"p":"6R","x":-0.005,"eGlob":15,"eLoc1":13,"eLoc2":14},
{"p":"6R","x":-0.004,"eGlob":25,"eLoc1":22,"eLoc2":24},
{"p":"6R","x":-0.003,"eGlob":50,"eLoc1":45,"eLoc2":50},
{"p":"6R","x":-0.0025,"eGlob":80,"eLoc1":70,"eLoc2":75},
{"p":"6R","x":-0.002,"eGlob":130,"eLoc1":120,"eLoc2":130},
{"p":"6R","x":-0.0015,"eGlob":200,"eLoc1":230,"eLoc2":250},
{"p":"6R","x":-0.001,"eGlob":388,"eLoc1":300,"eLoc2":448},
{"p":"6R","x":-0.0005,"eGlob":300,"eLoc1":817,"eLoc2":531},
{"p":"6R","x":0,"eGlob":190,"eLoc1":260,"eLoc2":200},
{"p":"6R","x":0.0005,"eGlob":100,"eLoc1":130,"eLoc2":110},
{"p":"6R","x":0.001,"eGlob":60,"eLoc1":80,"eLoc2":70},
{"p":"6R","x":0.0015,"eGlob":45,"eLoc1":55,"eLoc2":50},
{"p":"6R","x":0.002,"eGlob":35,"eLoc1":40,"eLoc2":37},
{"p":"6R","x":0.003,"eGlob":25,"eLoc1":28,"eLoc2":25},
{"p":"6R","x":0.004,"eGlob":18,"eLoc1":20,"eLoc2":17},
{"p":"6R","x":0.005,"eGlob":13,"eLoc1":15,"eLoc2":12},
{"p":"6R","x":0.006,"eGlob":10,"eLoc1":11,"eLoc2":9},
{"p":"6R","x":0.008,"eGlob":7,"eLoc1":8,"eLoc2":6},
{"p":"6R","x":0.01,"eGlob":5,"eLoc1":5.5,"eLoc2":4},
{"p":"6R","x":0.012,"eGlob":3.5,"eLoc1":4,"eLoc2":2.8},
{"p":"6R","x":0.015,"eGlob":2,"eLoc1":2.5,"eLoc2":1.6},
{"p":"6R","x":0.018,"eGlob":1.2,"eLoc1":1.5,"eLoc2":0.9},
{"p":"6R","x":0.022,"eGlob":0.6,"eLoc1":0.8,"eLoc2":0.5},
{"p":"6R","x":0.026,"eGlob":0.3,"eLoc1":0.3,"eLoc2":0.2},
{"p":"6R","x":0.03,"eGlob":0,"eLoc1":0,"eLoc2":0}
]},
"columns":2,
"spacing":0,
"bounds":"flush",
"resolve":{"scale":{"fill":"shared","stroke":"shared"}},
"concat":[
 {"width":286,"height":127,
  "transform":[{"filter":"datum.p=='1L'"},{"fold":["eGlob","eLoc1","eLoc2"],"as":["s","v"]}],
  "encoding":{
   "x":{"field":"x","type":"quantitative","scale":{"domain":[-0.03,0.03],"nice":false,"zero":false},"axis":{"values":[-0.03,-0.02,-0.01,0,0.01,0.02,0.03],"labels":false,"title":null}},
   "y":{"field":"v","type":"quantitative","stack":null,"scale":{"domain":[0,75],"nice":false},"axis":{"values":[0,20,40,60],"labelExpr":"datum.value==0 ? '' : datum.label","title":null,"minExtent":38,"maxExtent":38}}},
  "layer":[
   {"transform":[{"filter":"datum.s=='eGlob'"}],"mark":{"type":"area","interpolate":"step-after","opacity":1},
    "encoding":{"fill":{"field":"s","type":"nominal","scale":{"domain":["eGlob"],"range":["#adff2f"]},
     "legend":{"orient":"none","legendX":12,"legendY":3,"title":null,"padding":0,"symbolType":"M-1,-0.355H1V0.355H-1Z","symbolSize":961,"symbolStrokeWidth":0,"symbolOpacity":1,"labelFontSize":13.5,"labelColor":"#222","labelOffset":11}}}},
   {"transform":[{"filter":"datum.s!='eGlob'"}],"mark":{"type":"line","interpolate":"step-after","strokeWidth":1.1},
    "encoding":{"stroke":{"field":"s","type":"nominal","scale":{"domain":["eLoc1","eLoc2"],"range":["#0000ff","#ff00ff"]},
     "legend":{"orient":"none","legendX":12,"legendY":23.3,"title":null,"padding":0,"symbolType":"M-1,-0.355H1V0.355H-1Z","symbolSize":961,"symbolStrokeWidth":1.3,"symbolFillColor":"transparent","symbolOpacity":1,"rowPadding":-14,"labelFontSize":13.5,"labelColor":"#222","labelOffset":10}}}}]},
 {"width":286,"height":127,
  "transform":[{"filter":"datum.p=='1R'"},{"fold":["eGlob","eLoc1","eLoc2"],"as":["s","v"]}],
  "encoding":{
   "x":{"field":"x","type":"quantitative","scale":{"domain":[-0.03,0.03],"nice":false,"zero":false},"axis":{"values":[-0.03,-0.02,-0.01,0,0.01,0.02,0.03],"labels":false,"title":null}},
   "y":{"field":"v","type":"quantitative","stack":null,"scale":{"domain":[0,75],"nice":false},"axis":{"values":[0,20,40,60],"labels":false,"title":null}}},
  "layer":[
   {"transform":[{"filter":"datum.s=='eGlob'"}],"mark":{"type":"area","interpolate":"step-after","opacity":1},"encoding":{"fill":{"field":"s","type":"nominal","scale":{"domain":["eGlob"],"range":["#adff2f"]},"legend":null}}},
   {"transform":[{"filter":"datum.s!='eGlob'"}],"mark":{"type":"line","interpolate":"step-after","strokeWidth":1.1},"encoding":{"stroke":{"field":"s","type":"nominal","scale":{"domain":["eLoc1","eLoc2"],"range":["#0000ff","#ff00ff"]},"legend":null}}}]},
 {"width":286,"height":127,
  "transform":[{"filter":"datum.p=='2L'"},{"fold":["eGlob","eLoc1","eLoc2"],"as":["s","v"]}],
  "encoding":{
   "x":{"field":"x","type":"quantitative","scale":{"domain":[-0.03,0.03],"nice":false,"zero":false},"axis":{"values":[-0.03,-0.02,-0.01,0,0.01,0.02,0.03],"labels":false,"title":null}},
   "y":{"field":"v","type":"quantitative","stack":null,"scale":{"domain":[0,170],"nice":false},"axis":{"values":[0,50,100,150],"labelExpr":"datum.value==0 ? '' : datum.label","title":"on","titleAngle":0,"titleAlign":"right","titleBaseline":"alphabetic","titleX":-33,"titleY":116,"titleFont":"Open Sans","titleFontSize":46,"titleColor":"#0d6079","titleFontWeight":"normal","minExtent":38,"maxExtent":38}}},
  "layer":[
   {"transform":[{"filter":"datum.s=='eGlob'"}],"mark":{"type":"area","interpolate":"step-after","opacity":1},"encoding":{"fill":{"field":"s","type":"nominal","scale":{"domain":["eGlob"],"range":["#adff2f"]},"legend":null}}},
   {"transform":[{"filter":"datum.s!='eGlob'"}],"mark":{"type":"line","interpolate":"step-after","strokeWidth":1.1},"encoding":{"stroke":{"field":"s","type":"nominal","scale":{"domain":["eLoc1","eLoc2"],"range":["#0000ff","#ff00ff"]},"legend":null}}}]},
 {"width":286,"height":127,
  "transform":[{"filter":"datum.p=='2R'"},{"fold":["eGlob","eLoc1","eLoc2"],"as":["s","v"]}],
  "encoding":{
   "x":{"field":"x","type":"quantitative","scale":{"domain":[-0.03,0.03],"nice":false,"zero":false},"axis":{"values":[-0.03,-0.02,-0.01,0,0.01,0.02,0.03],"labels":false,"title":null}},
   "y":{"field":"v","type":"quantitative","stack":null,"scale":{"domain":[0,170],"nice":false},"axis":{"values":[0,50,100,150],"labels":false,"title":null}}},
  "layer":[
   {"transform":[{"filter":"datum.s=='eGlob'"}],"mark":{"type":"area","interpolate":"step-after","opacity":1},"encoding":{"fill":{"field":"s","type":"nominal","scale":{"domain":["eGlob"],"range":["#adff2f"]},"legend":null}}},
   {"transform":[{"filter":"datum.s!='eGlob'"}],"mark":{"type":"line","interpolate":"step-after","strokeWidth":1.1},"encoding":{"stroke":{"field":"s","type":"nominal","scale":{"domain":["eLoc1","eLoc2"],"range":["#0000ff","#ff00ff"]},"legend":null}}}]},
 {"width":286,"height":127,
  "transform":[{"filter":"datum.p=='3L'"},{"fold":["eGlob","eLoc1","eLoc2"],"as":["s","v"]}],
  "encoding":{
   "x":{"field":"x","type":"quantitative","scale":{"domain":[-0.03,0.03],"nice":false,"zero":false},"axis":{"values":[-0.03,-0.02,-0.01,0,0.01,0.02,0.03],"labels":false,"title":null}},
   "y":{"field":"v","type":"quantitative","stack":null,"scale":{"domain":[0,190],"nice":false},"axis":{"values":[0,50,100,150],"labelExpr":"datum.value==0 ? '' : datum.label","title":null,"minExtent":38,"maxExtent":38}}},
  "layer":[
   {"transform":[{"filter":"datum.s=='eGlob'"}],"mark":{"type":"area","interpolate":"step-after","opacity":1},"encoding":{"fill":{"field":"s","type":"nominal","scale":{"domain":["eGlob"],"range":["#adff2f"]},"legend":null}}},
   {"transform":[{"filter":"datum.s!='eGlob'"}],"mark":{"type":"line","interpolate":"step-after","strokeWidth":1.1},"encoding":{"stroke":{"field":"s","type":"nominal","scale":{"domain":["eLoc1","eLoc2"],"range":["#0000ff","#ff00ff"]},"legend":null}}}]},
 {"width":286,"height":127,
  "transform":[{"filter":"datum.p=='3R'"},{"fold":["eGlob","eLoc1","eLoc2"],"as":["s","v"]}],
  "encoding":{
   "x":{"field":"x","type":"quantitative","scale":{"domain":[-0.03,0.03],"nice":false,"zero":false},"axis":{"values":[-0.03,-0.02,-0.01,0,0.01,0.02,0.03],"labels":false,"title":null}},
   "y":{"field":"v","type":"quantitative","stack":null,"scale":{"domain":[0,190],"nice":false},"axis":{"values":[0,50,100,150],"labels":false,"title":null}}},
  "layer":[
   {"transform":[{"filter":"datum.s=='eGlob'"}],"mark":{"type":"area","interpolate":"step-after","opacity":1},"encoding":{"fill":{"field":"s","type":"nominal","scale":{"domain":["eGlob"],"range":["#adff2f"]},"legend":null}}},
   {"transform":[{"filter":"datum.s!='eGlob'"}],"mark":{"type":"line","interpolate":"step-after","strokeWidth":1.1},"encoding":{"stroke":{"field":"s","type":"nominal","scale":{"domain":["eLoc1","eLoc2"],"range":["#0000ff","#ff00ff"]},"legend":null}}}]},
 {"width":286,"height":127,
  "transform":[{"filter":"datum.p=='4L'"},{"fold":["eGlob","eLoc1","eLoc2"],"as":["s","v"]}],
  "encoding":{
   "x":{"field":"x","type":"quantitative","scale":{"domain":[-0.03,0.03],"nice":false,"zero":false},"axis":{"values":[-0.03,-0.02,-0.01,0,0.01,0.02,0.03],"labels":false,"title":null}},
   "y":{"field":"v","type":"quantitative","stack":null,"scale":{"domain":[0,250],"nice":false},"axis":{"values":[0,100,200],"labelExpr":"datum.value==0 ? '' : datum.label","title":"IR","titleAngle":0,"titleAlign":"right","titleBaseline":"alphabetic","titleX":-35,"titleY":105,"titleFont":"Open Sans","titleFontSize":56,"titleColor":"#0d6079","titleFontWeight":"normal","minExtent":38,"maxExtent":38}}},
  "layer":[
   {"transform":[{"filter":"datum.s=='eGlob'"}],"mark":{"type":"area","interpolate":"step-after","opacity":1},"encoding":{"fill":{"field":"s","type":"nominal","scale":{"domain":["eGlob"],"range":["#adff2f"]},"legend":null}}},
   {"transform":[{"filter":"datum.s!='eGlob'"}],"mark":{"type":"line","interpolate":"step-after","strokeWidth":1.1},"encoding":{"stroke":{"field":"s","type":"nominal","scale":{"domain":["eLoc1","eLoc2"],"range":["#0000ff","#ff00ff"]},"legend":null}}}]},
 {"width":286,"height":127,
  "transform":[{"filter":"datum.p=='4R'"},{"fold":["eGlob","eLoc1","eLoc2"],"as":["s","v"]}],
  "encoding":{
   "x":{"field":"x","type":"quantitative","scale":{"domain":[-0.03,0.03],"nice":false,"zero":false},"axis":{"values":[-0.03,-0.02,-0.01,0,0.01,0.02,0.03],"labels":false,"title":null}},
   "y":{"field":"v","type":"quantitative","stack":null,"scale":{"domain":[0,250],"nice":false},"axis":{"values":[0,100,200],"labels":false,"title":null}}},
  "layer":[
   {"transform":[{"filter":"datum.s=='eGlob'"}],"mark":{"type":"area","interpolate":"step-after","opacity":1},"encoding":{"fill":{"field":"s","type":"nominal","scale":{"domain":["eGlob"],"range":["#adff2f"]},"legend":null}}},
   {"transform":[{"filter":"datum.s!='eGlob'"}],"mark":{"type":"line","interpolate":"step-after","strokeWidth":1.1},"encoding":{"stroke":{"field":"s","type":"nominal","scale":{"domain":["eLoc1","eLoc2"],"range":["#0000ff","#ff00ff"]},"legend":null}}}]},
 {"width":286,"height":127,
  "transform":[{"filter":"datum.p=='5L'"},{"fold":["eGlob","eLoc1","eLoc2"],"as":["s","v"]}],
  "encoding":{
   "x":{"field":"x","type":"quantitative","scale":{"domain":[-0.03,0.03],"nice":false,"zero":false},"axis":{"values":[-0.03,-0.02,-0.01,0,0.01,0.02,0.03],"labels":false,"title":null}},
   "y":{"field":"v","type":"quantitative","stack":null,"scale":{"domain":[0,372],"nice":false},"axis":{"values":[0,100,200,300],"labelExpr":"datum.value==0 ? '' : datum.label","title":null,"minExtent":38,"maxExtent":38}}},
  "layer":[
   {"transform":[{"filter":"datum.s=='eGlob'"}],"mark":{"type":"area","interpolate":"step-after","opacity":1},"encoding":{"fill":{"field":"s","type":"nominal","scale":{"domain":["eGlob"],"range":["#adff2f"]},"legend":null}}},
   {"transform":[{"filter":"datum.s!='eGlob'"}],"mark":{"type":"line","interpolate":"step-after","strokeWidth":1.1},"encoding":{"stroke":{"field":"s","type":"nominal","scale":{"domain":["eLoc1","eLoc2"],"range":["#0000ff","#ff00ff"]},"legend":null}}}]},
 {"width":286,"height":127,
  "transform":[{"filter":"datum.p=='5R'"},{"fold":["eGlob","eLoc1","eLoc2"],"as":["s","v"]}],
  "encoding":{
   "x":{"field":"x","type":"quantitative","scale":{"domain":[-0.03,0.03],"nice":false,"zero":false},"axis":{"values":[-0.03,-0.02,-0.01,0,0.01,0.02,0.03],"labels":false,"title":null}},
   "y":{"field":"v","type":"quantitative","stack":null,"scale":{"domain":[0,372],"nice":false},"axis":{"values":[0,100,200,300],"labels":false,"title":null}}},
  "layer":[
   {"transform":[{"filter":"datum.s=='eGlob'"}],"mark":{"type":"area","interpolate":"step-after","opacity":1},"encoding":{"fill":{"field":"s","type":"nominal","scale":{"domain":["eGlob"],"range":["#adff2f"]},"legend":null}}},
   {"transform":[{"filter":"datum.s!='eGlob'"}],"mark":{"type":"line","interpolate":"step-after","strokeWidth":1.1},"encoding":{"stroke":{"field":"s","type":"nominal","scale":{"domain":["eLoc1","eLoc2"],"range":["#0000ff","#ff00ff"]},"legend":null}}}]},
 {"width":286,"height":127,
  "transform":[{"filter":"datum.p=='6L'"},{"fold":["eGlob","eLoc1","eLoc2"],"as":["s","v"]}],
  "encoding":{
   "x":{"field":"x","type":"quantitative","scale":{"domain":[-0.03,0.03],"nice":false,"zero":false},"axis":{"values":[-0.03,-0.02,-0.01,0,0.01,0.02,0.03],"format":".2f","labelExpr":"abs(datum.value)>0.025 || abs(round(datum.value*100))%2==1 ? '' : datum.label","title":"dᵢ [m³m⁻³]"}},
   "y":{"field":"v","type":"quantitative","stack":null,"scale":{"domain":[0,900],"nice":false},"axis":{"values":[0,250,500,750],"labelExpr":"datum.value==0 ? '' : datum.label","title":"PDF","titlePadding":5,"minExtent":38,"maxExtent":38}}},
  "layer":[
   {"transform":[{"filter":"datum.s=='eGlob'"}],"mark":{"type":"area","interpolate":"step-after","opacity":1},"encoding":{"fill":{"field":"s","type":"nominal","scale":{"domain":["eGlob"],"range":["#adff2f"]},"legend":null}}},
   {"transform":[{"filter":"datum.s!='eGlob'"}],"mark":{"type":"line","interpolate":"step-after","strokeWidth":1.1},"encoding":{"stroke":{"field":"s","type":"nominal","scale":{"domain":["eLoc1","eLoc2"],"range":["#0000ff","#ff00ff"]},"legend":null}}}]},
 {"width":286,"height":127,
  "transform":[{"filter":"datum.p=='6R'"},{"fold":["eGlob","eLoc1","eLoc2"],"as":["s","v"]}],
  "encoding":{
   "x":{"field":"x","type":"quantitative","scale":{"domain":[-0.03,0.03],"nice":false,"zero":false},"axis":{"values":[-0.03,-0.02,-0.01,0,0.01,0.02,0.03],"format":".2f","labelExpr":"abs(datum.value)>0.025 || abs(round(datum.value*100))%2==1 ? '' : datum.label","title":"dᵣ [m³m⁻³]"}},
   "y":{"field":"v","type":"quantitative","stack":null,"scale":{"domain":[0,900],"nice":false},"axis":{"values":[0,250,500,750],"labels":false,"title":null}}},
  "layer":[
   {"transform":[{"filter":"datum.s=='eGlob'"}],"mark":{"type":"area","interpolate":"step-after","opacity":1},"encoding":{"fill":{"field":"s","type":"nominal","scale":{"domain":["eGlob"],"range":["#adff2f"]},"legend":null}}},
   {"transform":[{"filter":"datum.s!='eGlob'"}],"mark":{"type":"line","interpolate":"step-after","strokeWidth":1.1},"encoding":{"stroke":{"field":"s","type":"nominal","scale":{"domain":["eLoc1","eLoc2"],"range":["#0000ff","#ff00ff"]},"legend":null}}}]}
]
}
